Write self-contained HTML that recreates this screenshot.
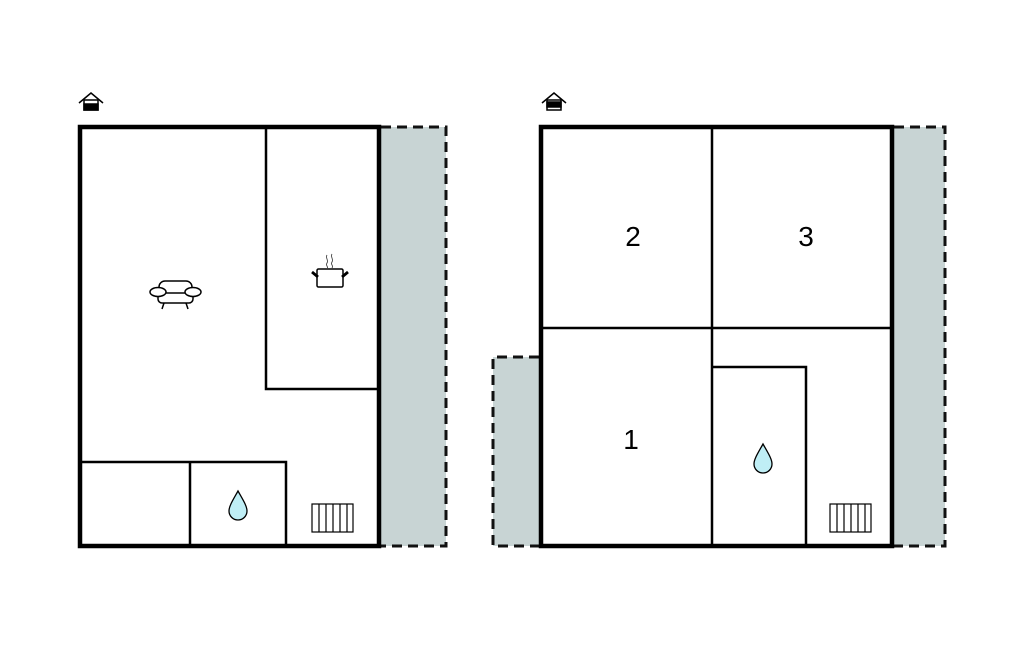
<!DOCTYPE html>
<html><head><meta charset="utf-8"><style>html,body{margin:0;padding:0;background:#fff}svg{display:block}</style></head>
<body>
<svg width="1024" height="652" viewBox="0 0 1024 652" xmlns="http://www.w3.org/2000/svg">
<rect x="381" y="127" width="65" height="419" fill="#c8d4d4"/>
<path d="M381 127H446V546H381" fill="none" stroke="#111" stroke-width="3" stroke-dasharray="10,6"/>
<rect x="894" y="127" width="51" height="419" fill="#c8d4d4"/>
<path d="M894 127H945V546H894" fill="none" stroke="#111" stroke-width="3" stroke-dasharray="10,6"/>
<rect x="493" y="357" width="46" height="189" fill="#c8d4d4"/>
<path d="M539 357H493V546H539" fill="none" stroke="#111" stroke-width="3" stroke-dasharray="10,6"/>

<g fill="none" stroke="#000">
<rect x="80" y="127" width="299" height="419" stroke-width="4.5" fill="#fff"/>
<path d="M266 127V389H379M80 462H286V546M190 462V546" stroke-width="2.5"/>
<rect x="541" y="127" width="351" height="419" stroke-width="4.5" fill="#fff"/>
<path d="M712 127V546M541 328H892M712 367H806V546" stroke-width="2.5"/>
</g>

<g stroke="#000" stroke-width="1.5" fill="none">
<path d="M79 103L91 93L103 103"/><rect x="84" y="100" width="14" height="10" fill="#fff"/>
<rect x="84" y="104" width="14" height="6" fill="#000"/>
<path d="M542 103L554 93L566 103"/><rect x="547" y="100" width="14" height="10" fill="#fff"/>
<rect x="547" y="102" width="14" height="5" fill="#000"/>
</g>

<g stroke="#000" stroke-width="1.5" fill="#fff">
<rect x="159" y="281" width="33" height="17" rx="6"/>
<rect x="158" y="293" width="35" height="10" rx="4"/>
<ellipse cx="158" cy="292" rx="8" ry="4.5"/>
<ellipse cx="193" cy="292" rx="8" ry="4.5"/>
<path d="M164 303L162 309M186 303L188 309" fill="none"/>
</g>
<g stroke="#000" stroke-width="1.5" fill="#fff">
<rect x="317" y="269" width="26" height="18" rx="1.5"/>
<path d="M312 272L318 277M348 272L342 277" stroke-width="2.8"/>
<path d="M327 255c-2 3 2 5 0 8s2 3 0 6M332 254c-2 3 2 5 0 8s2 3 0 6" fill="none" stroke-width="0.9" stroke="#444"/>
</g>

<g fill="#bfeef5" stroke="#000" stroke-width="1.3">
<path d="M238 491C233 500 229 506 229 511a9 9 0 0 0 18 0C247 506 243 500 238 491Z"/>
<path d="M763 444C758 453 754 459 754 464a9 9 0 0 0 18 0C772 459 768 453 763 444Z"/>
</g>

<g fill="#fff" stroke="#000" stroke-width="1.2">
<rect x="312" y="504" width="41" height="28"/>
<path d="M319 504V532M326 504V532M333 504V532M340 504V532M347 504V532"/>
<rect x="830" y="504" width="41" height="28"/>
<path d="M837 504V532M844 504V532M851 504V532M858 504V532M865 504V532"/>
</g>

<g font-family="Liberation Sans, sans-serif" font-size="28" fill="#000" text-anchor="middle">
<text x="633" y="246">2</text>
<text x="806" y="246">3</text>
<text x="631" y="449">1</text>
</g>
</svg>
</body></html>
